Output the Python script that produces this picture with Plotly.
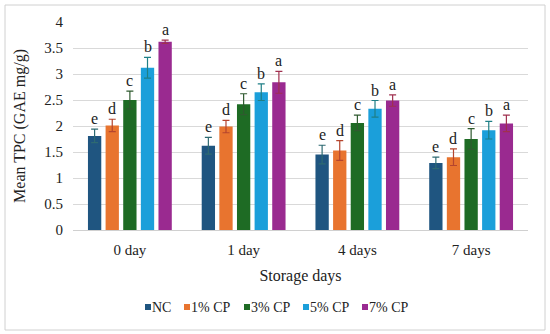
import plotly.graph_objects as go

categories = ["0 day", "1 day", "4 days", "7 days"]
series_names = ["NC", "1% CP", "3% CP", "5% CP", "7% CP"]
nc = [1.81, 1.62, 1.45, 1.29]
cp1 = [2.01, 1.99, 1.53, 1.40]
cp3 = [2.50, 2.42, 2.06, 1.75]
cp5 = [3.12, 2.65, 2.33, 1.92]
cp7 = [3.62, 2.84, 2.49, 2.05]
nc_err = [0.13, 0.16, 0.18, 0.11]
cp1_err = [0.12, 0.12, 0.19, 0.16]
cp3_err = [0.17, 0.20, 0.15, 0.20]
cp5_err = [0.20, 0.16, 0.16, 0.17]
cp7_err = [0.03, 0.21, 0.11, 0.16]
letters = ["e", "d", "c", "b", "a"]

values = [nc, cp1, cp3, cp5, cp7]
errors = [nc_err, cp1_err, cp3_err, cp5_err, cp7_err]
colors = ["#1F5580", "#E8742F", "#1E6B24", "#1B9FDA", "#9A2A90"]
err_colors = ["#2E6A72", "#B5452E", "#2F5A2F", "#1F7F86", "#A0304F"]

FONT = "Liberation Serif"
TXT = "#222222"
fig = go.Figure()
for name, v, e, c, ec in zip(series_names, values, errors, colors, err_colors):
    fig.add_trace(go.Bar(
        x=categories, y=v, name=name, marker_color=c,
        marker_line_width=0,
        error_y=dict(type="data", array=e, visible=True, color=ec,
                     thickness=1.2, width=3.5),
    ))

bargap = 0.225
slot = (1 - bargap) / len(series_names)
annotations = []
for j, (v, e) in enumerate(zip(values, errors)):
    for i in range(len(categories)):
        annotations.append(dict(
            x=i + (j - 2) * slot, y=v[i] + e[i], xref="x", yref="y",
            text=letters[j], showarrow=False, yanchor="bottom", yshift=0,
            font=dict(family=FONT, size=16, color=TXT),
        ))

W, H = 550, 334
ml, mr, mt, mb = 73, 22, 22, 104
pw, ph = W - ml - mr, H - mt - mb
def px_to_paper_x(px):
    return (px - ml) / pw
def py_to_paper_y(py):
    return (H - mb - py) / ph

shapes = [dict(type="rect", xref="paper", yref="paper",
               x0=px_to_paper_x(5), x1=px_to_paper_x(545),
               y0=py_to_paper_y(330), y1=py_to_paper_y(5),
               line=dict(color="#d0d0d0", width=1), fillcolor="rgba(0,0,0,0)",
               layer="below")]

# legend drawn as squares + labels
legend_x = [145, 184, 244, 303, 362]
legend_y = 307
for name, c, lx in zip(series_names, colors, legend_x):
    shapes.append(dict(type="rect", xref="paper", yref="paper",
                       x0=px_to_paper_x(lx), x1=px_to_paper_x(lx + 6),
                       y0=py_to_paper_y(legend_y + 3), y1=py_to_paper_y(legend_y - 3),
                       line=dict(width=0), fillcolor=c))
    annotations.append(dict(x=px_to_paper_x(lx + 7), y=py_to_paper_y(legend_y),
                            xref="paper", yref="paper", text=name, showarrow=False,
                            xanchor="left", yanchor="middle", xshift=-2,
                            font=dict(family=FONT, size=14, color=TXT)))

fig.update_layout(
    width=W, height=H,
    margin=dict(l=ml, r=mr, t=mt, b=mb, autoexpand=False),
    paper_bgcolor="white", plot_bgcolor="white",
    barmode="group", bargap=bargap, bargroupgap=0.245,
    font=dict(family=FONT, size=13, color=TXT),
    annotations=annotations,
    showlegend=False,
    shapes=shapes,
)
fig.update_yaxes(range=[0, 4], dtick=0.5, showgrid=True, gridcolor="#d9d9d9",
                 gridwidth=1, zeroline=False, showline=False, automargin=False,
                 tickfont=dict(family=FONT, size=15, color=TXT),
                 ticks="", ticklabelstandoff=9,
                 title=dict(text="Mean TPC (GAE mg/g)", standoff=14,
                            font=dict(family=FONT, size=16, color=TXT)))
fig.update_xaxes(showline=True, linecolor="#d0d0d0", linewidth=1, automargin=False,
                 tickfont=dict(family=FONT, size=15, color=TXT),
                 ticks="", ticklabelstandoff=6,
                 title=dict(text="Storage days", standoff=12,
                            font=dict(family=FONT, size=16, color=TXT)))

fig.write_html("out.html", post_script="document.body.style.margin='0';",
               config={"displayModeBar": False})
